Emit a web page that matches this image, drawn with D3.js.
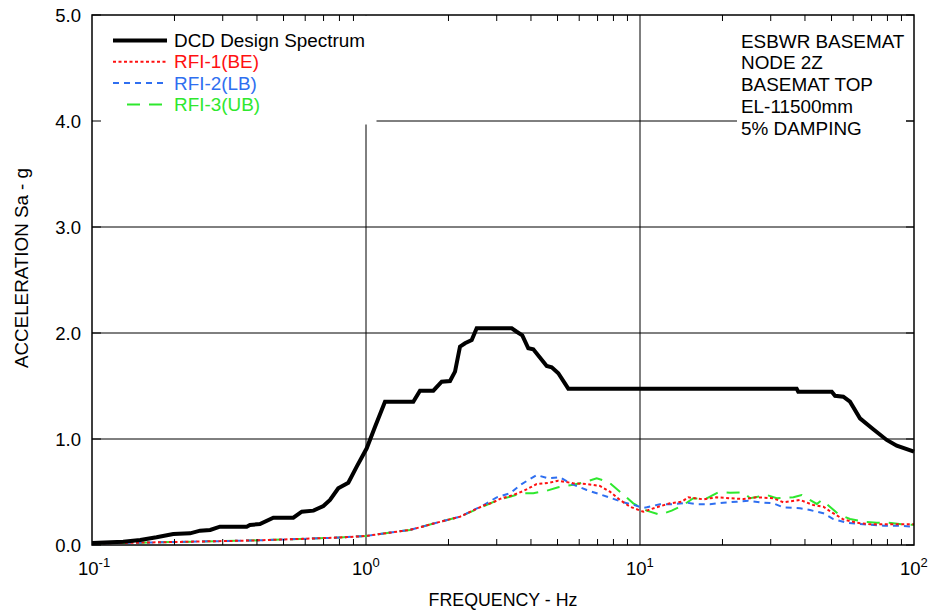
<!DOCTYPE html>
<html>
<head>
<meta charset="utf-8">
<script src="https://cdn.jsdelivr.net/npm/d3@7"></script>
<style>
  html, body { margin: 0; padding: 0; background: #fff; }
  svg { display: block; font-family: "Liberation Sans", Arial, sans-serif; }
</style>
</head>
<body>
<svg id="chart" width="932" height="612"></svg>
<script>
// ---------- Data ----------
const dcdFreq = [0.1, 0.13, 0.15, 0.172, 0.198, 0.228, 0.248, 0.27, 0.293, 0.367, 0.377, 0.41, 0.459, 0.543, 0.583, 0.643, 0.699, 0.739, 0.792, 0.862, 0.925, 1.006, 1.079, 1.173, 1.488, 1.574, 1.761, 1.889, 2.026, 2.113, 2.203, 2.298, 2.431, 2.535, 3.403, 3.548, 3.719, 3.911, 4.079, 4.566, 4.762, 5.034, 5.474, 37.3, 37.8, 50.1, 51.5, 55.2, 58.4, 63.5, 71.0, 79.5, 86.5, 100];
const dcdAcc  = [0.02, 0.031, 0.047, 0.073, 0.104, 0.110, 0.135, 0.142, 0.173, 0.173, 0.189, 0.198, 0.258, 0.258, 0.314, 0.324, 0.368, 0.425, 0.535, 0.588, 0.739, 0.912, 1.116, 1.352, 1.352, 1.456, 1.456, 1.541, 1.547, 1.635, 1.871, 1.903, 1.934, 2.044, 2.044, 2.012, 1.978, 1.856, 1.846, 1.689, 1.676, 1.620, 1.475, 1.475, 1.446, 1.446, 1.408, 1.399, 1.352, 1.195, 1.092, 0.991, 0.937, 0.88];

const rfi1Freq = [0.1, 0.163, 0.248, 0.377, 0.574, 0.804, 1.0, 1.125, 1.447, 1.811, 2.203, 2.68, 2.90, 3.083, 3.45, 3.75, 4.198, 4.69, 5.03, 5.71, 6.39, 7.14, 7.77, 8.45, 9.19, 10.28, 11.5, 12.87, 14.19, 15.01, 17.02, 19.05, 21.31, 23.83, 26.67, 30.65, 33.34, 38.37, 42.9, 46.67, 50.1, 55.2, 61.8, 69.1, 79.5, 100];
const rfi1Acc  = [0.014, 0.024, 0.033, 0.042, 0.057, 0.071, 0.085, 0.104, 0.142, 0.21, 0.267, 0.371, 0.40, 0.435, 0.472, 0.509, 0.575, 0.588, 0.607, 0.582, 0.575, 0.557, 0.503, 0.425, 0.361, 0.314, 0.356, 0.393, 0.408, 0.45, 0.431, 0.45, 0.441, 0.434, 0.45, 0.441, 0.403, 0.425, 0.377, 0.361, 0.308, 0.242, 0.21, 0.195, 0.195, 0.195];

const rfi2Freq = [0.1, 0.163, 0.248, 0.377, 0.574, 0.804, 1.0, 1.125, 1.447, 1.811, 2.203, 2.68, 3.0, 3.354, 3.70, 4.198, 4.63, 5.105, 5.554, 6.39, 6.95, 7.88, 8.69, 9.45, 10.28, 10.58, 11.83, 13.23, 14.81, 16.1, 18.0, 20.14, 22.53, 24.85, 27.4, 30.65, 33.34, 38.37, 41.73, 46.67, 50.77, 56.8, 65.3, 77.3, 88.9, 100];
const rfi2Acc  = [0.014, 0.024, 0.033, 0.042, 0.057, 0.071, 0.085, 0.104, 0.142, 0.21, 0.267, 0.375, 0.45, 0.488, 0.575, 0.66, 0.629, 0.639, 0.582, 0.519, 0.488, 0.441, 0.403, 0.38, 0.35, 0.356, 0.384, 0.384, 0.399, 0.384, 0.384, 0.399, 0.408, 0.418, 0.403, 0.393, 0.356, 0.346, 0.33, 0.299, 0.245, 0.21, 0.195, 0.182, 0.182, 0.173];

const rfi3Freq = [0.1, 0.163, 0.248, 0.377, 0.574, 0.804, 1.0, 1.125, 1.447, 1.811, 2.203, 2.68, 3.0, 3.354, 3.70, 4.08, 4.57, 5.03, 5.63, 6.21, 6.95, 7.66, 8.58, 9.45, 10.58, 11.83, 13.05, 14.39, 15.65, 17.27, 19.31, 21.31, 23.83, 25.2, 29.0, 31.55, 36.3, 38.9, 44.2, 46.05, 48.0, 52.97, 58.4, 65.3, 73.1, 80.5, 90.1, 100];
const rfi3Acc  = [0.014, 0.024, 0.033, 0.042, 0.057, 0.071, 0.085, 0.104, 0.142, 0.21, 0.267, 0.365, 0.42, 0.456, 0.488, 0.488, 0.512, 0.544, 0.566, 0.588, 0.629, 0.597, 0.488, 0.393, 0.324, 0.286, 0.324, 0.377, 0.441, 0.431, 0.497, 0.493, 0.497, 0.441, 0.472, 0.441, 0.45, 0.472, 0.387, 0.425, 0.387, 0.292, 0.245, 0.22, 0.21, 0.21, 0.195, 0.19];

const yTicks = [0, 1, 2, 3, 4, 5];
const xDecades = [0.1, 1, 10, 100];
const xDecadeExp = ["-1", "0", "1", "2"];
const seriesNames = ["DCD Design Spectrum", "RFI-1(BE)", "RFI-2(LB)", "RFI-3(UB)"];
const noteLines = ["ESBWR BASEMAT", "NODE 2Z", "BASEMAT TOP", "EL-11500mm", "5% DAMPING"];
const xTitle = "FREQUENCY - Hz";
const yTitle = "ACCELERATION Sa - g";

// ---------- Layout ----------
const L = 92, R = 914, T = 15, B = 545;
const svg = d3.select("#chart");
const x = d3.scaleLog().domain([0.1, 100]).range([L, R]);
const y = d3.scaleLinear().domain([0, 5]).range([B, T]);

const styles = [
  { color: "#000000", width: 4, dash: null },
  { color: "#ff1010", width: 2, dash: "3,2.5" },
  { color: "#2f6ff0", width: 2, dash: "6,5" },
  { color: "#2ee82e", width: 2, dash: "13,9" }
];

// gridlines
const grid = svg.append("g").attr("stroke", "#000").attr("stroke-width", 1);
[1, 10].forEach(v => grid.append("line").attr("x1", x(v)).attr("x2", x(v)).attr("y1", T).attr("y2", B));
[1, 2, 3, 4].forEach(v => grid.append("line").attr("x1", L).attr("x2", R).attr("y1", y(v)).attr("y2", y(v)));

// white boxes behind legend and note
svg.append("rect").attr("x", L + 0.5).attr("y", T + 0.5).attr("width", 376 - L).attr("height", 124 - T).attr("fill", "#fff");
svg.append("rect").attr("x", 737).attr("y", 28).attr("width", 169).attr("height", 112).attr("fill", "#fff");

// series
const line = d3.line().x(d => x(d[0])).y(d => y(d[1]));
const series = [
  d3.zip(dcdFreq, dcdAcc),
  d3.zip(rfi1Freq, rfi1Acc),
  d3.zip(rfi2Freq, rfi2Acc),
  d3.zip(rfi3Freq, rfi3Acc)
];
const plot = svg.append("g");
[3, 2, 1, 0].forEach(i => {
  plot.append("path").datum(series[i]).attr("d", line)
    .attr("fill", "none").attr("stroke", styles[i].color)
    .attr("stroke-width", styles[i].width)
    .attr("stroke-dasharray", styles[i].dash)
    .attr("stroke-linejoin", "miter");
});

// frame
svg.append("rect").attr("x", L).attr("y", T).attr("width", R - L).attr("height", B - T)
  .attr("fill", "none").attr("stroke", "#000").attr("stroke-width", 1.5);

// x minor ticks (top & bottom)
const minor = [];
for (let d = 0.1; d < 100; d *= 10) for (let k = 2; k <= 9; k++) minor.push(d * k);
const tk = svg.append("g").attr("stroke", "#000").attr("stroke-width", 1);
minor.forEach(v => {
  tk.append("line").attr("x1", x(v)).attr("x2", x(v)).attr("y1", B).attr("y2", B - 6);
  tk.append("line").attr("x1", x(v)).attr("x2", x(v)).attr("y1", T).attr("y2", T + 6);
});
yTicks.forEach(v => {
  tk.append("line").attr("x1", L).attr("x2", L + 9).attr("y1", y(v)).attr("y2", y(v));
  tk.append("line").attr("x1", R - 8).attr("x2", R).attr("y1", y(v)).attr("y2", y(v));
});

// y tick labels
svg.append("g").selectAll("text").data(yTicks).join("text")
  .attr("x", 81).attr("y", d => y(d) + 6.5)
  .attr("text-anchor", "end").attr("font-size", 18.5).attr("fill", "#000")
  .text(d => d.toFixed(1));

// x tick labels (10^n)
const xl = svg.append("g");
xDecades.forEach((v, i) => {
  const t = xl.append("text").attr("x", x(v) - 14).attr("y", 575)
    .attr("font-size", 18.5).attr("fill", "#000");
  t.append("tspan").text("10");
  t.append("tspan").attr("dy", -8).attr("font-size", 13).text(xDecadeExp[i]);
});

// axis titles
svg.append("text").attr("x", 503).attr("y", 606).attr("text-anchor", "middle")
  .attr("font-size", 17.8).attr("fill", "#000").text(xTitle);
svg.append("text").attr("transform", `translate(28,${(T + B) / 2 - 12}) rotate(-90)`)
  .attr("text-anchor", "middle").attr("font-size", 18.8).attr("fill", "#000").text(yTitle);

// legend
const lg = svg.append("g");
seriesNames.forEach((name, i) => {
  const ly = 40.5 + i * 21.3;
  const x1 = i === 3 ? 127 : 113;
  lg.append("line").attr("x1", x1).attr("x2", 167).attr("y1", ly).attr("y2", ly)
    .attr("stroke", styles[i].color).attr("stroke-width", styles[i].width)
    .attr("stroke-dasharray", styles[i].dash);
  lg.append("text").attr("x", 174).attr("y", ly + 6.5).attr("font-size", 18.9)
    .attr("fill", i === 0 ? "#000" : styles[i].color).text(name);
});

// note
svg.append("g").selectAll("text").data(noteLines).join("text")
  .attr("x", 741).attr("y", (d, i) => 47.5 + i * 21.8)
  .attr("font-size", 18.9).attr("fill", "#000").text(d => d);
</script>
</body>
</html>
